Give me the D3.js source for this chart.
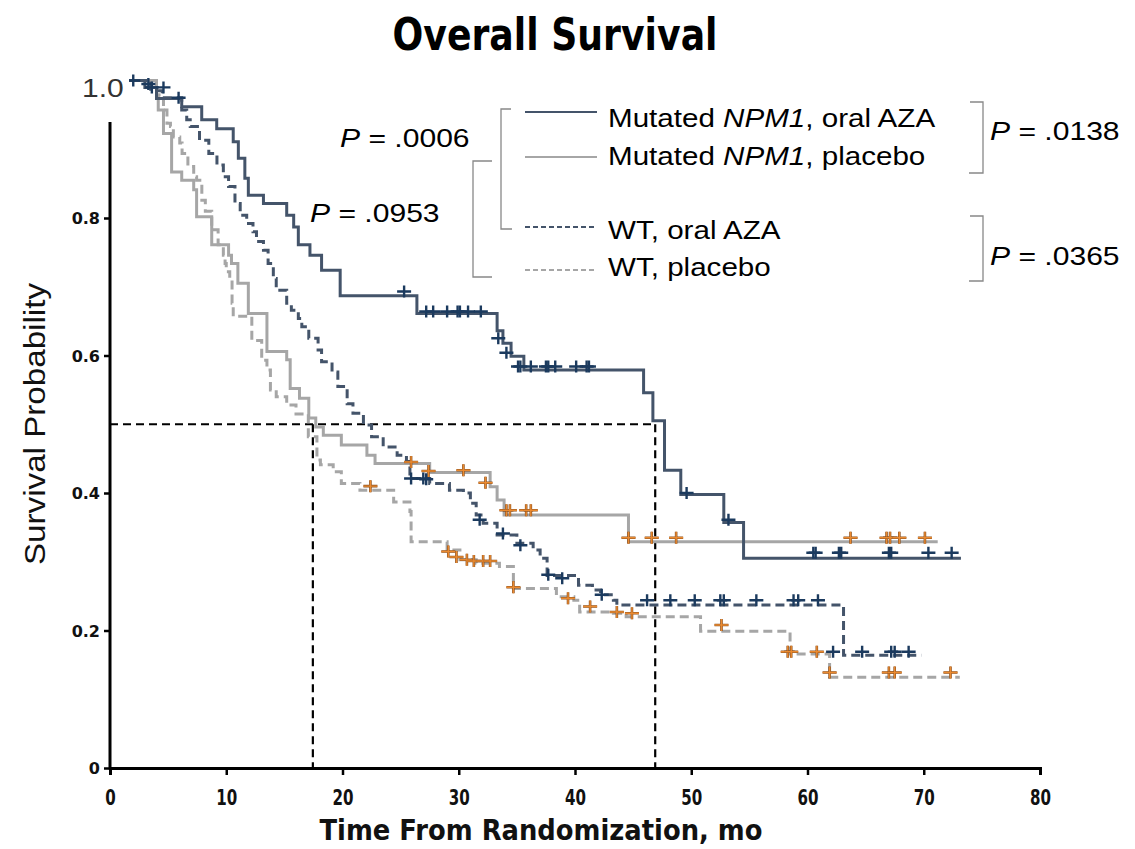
<!DOCTYPE html>
<html><head><meta charset="utf-8">
<script src="https://cdn.jsdelivr.net/npm/d3@7"></script>
<style>body{margin:0;background:#fff;}svg{display:block;}</style>
</head><body>
<svg id="chart" width="1135" height="849"></svg>
<script>
// ---------------- DATA ----------------
const categories = ["Mutated NPM1, oral AZA", "Mutated NPM1, placebo", "WT, oral AZA", "WT, placebo"];
const xTicks = [0, 10, 20, 30, 40, 50, 60, 70, 80];
const yTicks = [0, 0.2, 0.4, 0.6, 0.8];
const yTickLabels = ["0", "0.2", "0.4", "0.6", "0.8"];
const medianTimes = [17.45, 46.9];
const medianLevel = 0.5;
const pValues = [".0006", ".0953", ".0138", ".0365"];

// Mutated NPM1, oral AZA (step curve)
const mutAzaT = [0, 3.0, 4.0, 6.17, 7.89, 9.18, 10.6, 11.04, 11.6, 11.9, 13.2, 15.2, 15.8, 16.2, 17.2, 18.2, 19.8, 26.4, 33.3, 33.8, 34.5, 35.6, 45.9, 46.7, 47.7, 49.1, 52.8, 54.5, 73.2];
const mutAzaS = [1.0, 0.99, 0.974, 0.962, 0.943, 0.930, 0.911, 0.887, 0.858, 0.833, 0.821, 0.804, 0.787, 0.761, 0.746, 0.724, 0.687, 0.661, 0.636, 0.618, 0.599, 0.579, 0.546, 0.505, 0.433, 0.398, 0.357, 0.305, 0.305];
const mutAzaCensT = [2.0, 3.3, 3.6, 4.6, 5.9, 25.3, 27.2, 27.8, 29.0, 29.9, 30.1, 30.8, 31.9, 33.4, 34.1, 35.1, 35.3, 36.2, 37.5, 37.7, 38.3, 40.1, 41.0, 41.2, 49.6, 53.2, 60.5, 60.7, 62.7, 62.9, 67.0, 67.2, 70.4, 72.4];
const mutAzaCensS = [1.0, 0.995, 0.99, 0.99, 0.975, 0.693, 0.664, 0.664, 0.664, 0.664, 0.664, 0.664, 0.664, 0.625, 0.604, 0.584, 0.584, 0.584, 0.584, 0.584, 0.584, 0.584, 0.584, 0.584, 0.40, 0.361, 0.313, 0.313, 0.313, 0.313, 0.313, 0.313, 0.313, 0.313];

// Mutated NPM1, placebo
const mutPboT = [0, 4.0, 4.15, 4.6, 5.3, 6.17, 7.2, 7.45, 8.75, 10.2, 10.45, 11.0, 11.9, 13.5, 15.2, 15.5, 16.3, 17.1, 17.7, 18.35, 19.9, 22.1, 22.8, 27.5, 32.7, 33.3, 33.9, 44.6, 71.2];
const mutPboS = [1.0, 0.979, 0.957, 0.923, 0.867, 0.855, 0.841, 0.802, 0.761, 0.746, 0.734, 0.705, 0.661, 0.606, 0.594, 0.552, 0.538, 0.509, 0.496, 0.484, 0.470, 0.455, 0.443, 0.430, 0.409, 0.390, 0.368, 0.329, 0.329];
const mutPboCensT = [25.9, 27.4, 30.4, 32.3, 34.1, 34.4, 35.8, 36.2, 44.6, 46.6, 48.7, 63.7, 66.8, 67.1, 67.9, 70.1];
const mutPboCensS = [0.445, 0.432, 0.433, 0.415, 0.375, 0.375, 0.375, 0.375, 0.335, 0.335, 0.335, 0.335, 0.335, 0.335, 0.335, 0.335];

// WT, oral AZA
const wtAzaT = [0, 3.5, 4.5, 6.17, 6.6, 6.9, 7.7, 8.5, 9.2, 9.75, 10.2, 10.75, 11.2, 11.76, 12.3, 12.6, 13.2, 13.6, 14.05, 14.3, 15.2, 15.6, 16.2, 16.5, 17.1, 17.9, 18.2, 19.1, 19.6, 20.4, 20.9, 21.8, 22.5, 23.5, 24.7, 25.5, 25.8, 27.5, 29.2, 30.4, 31.0, 31.5, 32.1, 33.3, 35.0, 36.4, 37.0, 37.6, 40.3, 41.5, 42.2, 43.3, 43.6, 63.1, 69.8];
const wtAzaS = [1.0, 0.985, 0.975, 0.957, 0.943, 0.933, 0.913, 0.894, 0.877, 0.860, 0.846, 0.821, 0.804, 0.792, 0.780, 0.766, 0.753, 0.734, 0.712, 0.695, 0.676, 0.666, 0.654, 0.642, 0.625, 0.608, 0.591, 0.576, 0.555, 0.530, 0.516, 0.499, 0.482, 0.467, 0.455, 0.446, 0.421, 0.414, 0.404, 0.400, 0.385, 0.368, 0.356, 0.339, 0.327, 0.317, 0.305, 0.280, 0.266, 0.259, 0.252, 0.244, 0.237, 0.164, 0.164];
const wtAzaCensT = [25.9, 26.95, 27.2, 31.8, 33.8, 35.3, 37.7, 38.9, 42.3, 46.2, 48.2, 50.3, 52.5, 52.8, 55.6, 58.8, 59.2, 60.9, 62.2, 64.7, 67.2, 67.5, 68.7];
const wtAzaCensS = [0.421, 0.421, 0.42, 0.361, 0.341, 0.324, 0.281, 0.276, 0.252, 0.244, 0.244, 0.244, 0.244, 0.244, 0.244, 0.244, 0.244, 0.244, 0.169, 0.169, 0.169, 0.169, 0.169];

// WT, placebo
const wtPboT = [0, 4.0, 4.6, 4.9, 5.2, 5.45, 6.0, 6.2, 6.7, 7.2, 7.45, 7.9, 8.2, 8.75, 9.3, 9.75, 9.9, 10.0, 10.3, 10.5, 10.6, 12.2, 13.05, 13.5, 13.8, 14.3, 15.2, 16.0, 17.06, 17.8, 18.1, 19.2, 19.9, 21.5, 24.4, 25.8, 25.9, 29.0, 30.1, 31.5, 33.5, 34.7, 38.4, 39.9, 40.4, 43.3, 44.4, 50.8, 58.5, 61.9, 73.1];
const wtPboS = [1.0, 0.979, 0.957, 0.938, 0.933, 0.918, 0.909, 0.894, 0.875, 0.860, 0.855, 0.826, 0.810, 0.783, 0.761, 0.746, 0.734, 0.722, 0.707, 0.676, 0.657, 0.622, 0.593, 0.579, 0.550, 0.540, 0.528, 0.515, 0.482, 0.448, 0.441, 0.431, 0.414, 0.404, 0.387, 0.373, 0.329, 0.317, 0.303, 0.298, 0.293, 0.261, 0.249, 0.244, 0.227, 0.225, 0.220, 0.199, 0.166, 0.132, 0.132];
const wtPboCensT = [22.4, 29.1, 29.8, 30.7, 31.3, 32.1, 32.7, 34.7, 39.4, 41.3, 43.6, 44.9, 52.6, 58.3, 58.6, 60.8, 61.9, 67.0, 67.5, 72.3];
const wtPboCensS = [0.41, 0.315, 0.307, 0.303, 0.301, 0.301, 0.301, 0.263, 0.247, 0.235, 0.227, 0.225, 0.208, 0.169, 0.169, 0.169, 0.139, 0.139, 0.139, 0.139];

// ---------------- CHART ----------------
const svg = d3.select("#chart");
const x = d3.scaleLinear().domain([0, 80]).range([110, 1040]);
const y = d3.scaleLinear().domain([0, 1]).range([768, 80.5]);

const darkLine = "#44546a", grayLine = "#a6a6a6";
const darkCross = "#1b3a5e", orangeCross = "#ea8a30";

const series = [
  {T: mutAzaT, S: mutAzaS, cT: mutAzaCensT, cS: mutAzaCensS, color: darkLine, dash: null, cross: "dark"},
  {T: mutPboT, S: mutPboS, cT: mutPboCensT, cS: mutPboCensS, color: grayLine, dash: null, cross: "orange"},
  {T: wtAzaT, S: wtAzaS, cT: wtAzaCensT, cS: wtAzaCensS, color: darkLine, dash: "9,5", cross: "dark"},
  {T: wtPboT, S: wtPboS, cT: wtPboCensT, cS: wtPboCensS, color: grayLine, dash: "9,5", cross: "orange"}
];

// median reference lines
const med = svg.append("g").attr("stroke", "#000").attr("stroke-width", 2.2).attr("stroke-dasharray", "8,5").attr("fill", "none");
med.append("line").attr("x1", x(0)).attr("x2", x(medianTimes[1])).attr("y1", y(medianLevel)).attr("y2", y(medianLevel));
medianTimes.forEach(t => med.append("line").attr("x1", x(t)).attr("x2", x(t)).attr("y1", y(medianLevel)).attr("y2", y(0)));

const line = d3.line().x(d => x(d[0])).y(d => y(d[1])).curve(d3.curveStepAfter);
const drawOrder = [3, 1, 2, 0];
drawOrder.forEach(i => {
  const s = series[i];
  const pts = s.T.map((t, k) => [t, s.S[k]]);
  svg.append("path").attr("d", line(pts)).attr("fill", "none")
    .attr("stroke", s.color).attr("stroke-width", 3)
    .attr("stroke-dasharray", s.dash);
});
const crossPath = "M-7,0H7M0,-6V6";
drawOrder.forEach(i => {
  const s = series[i];
  const g = svg.append("g");
  s.cT.forEach((t, k) => {
    const tr = `translate(${x(t)},${y(s.cS[k])})`;
    if (s.cross === "orange") {
      g.append("path").attr("d", crossPath).attr("transform", tr).attr("stroke", "#8a5020").attr("stroke-width", 2.6).attr("fill", "none");
      g.append("path").attr("d", crossPath).attr("transform", tr).attr("stroke", orangeCross).attr("stroke-width", 1.4).attr("fill", "none");
    } else {
      g.append("path").attr("d", crossPath).attr("transform", tr).attr("stroke", darkCross).attr("stroke-width", 2.4).attr("fill", "none");
    }
  });
});

// axes
const yAxis = svg.append("g").attr("transform", `translate(${x(0)},0)`)
  .call(d3.axisLeft(y).tickValues(yTicks).tickSize(6).tickFormat((d, i) => yTickLabels[i]));
yAxis.select(".domain").remove();
yAxis.selectAll(".tick line").attr("stroke", "#000").attr("stroke-width", 2.5);
yAxis.selectAll(".tick text").attr("font-family", "DejaVu Sans").attr("font-weight", "bold").attr("font-size", 16)
  .attr("fill", "#111").attr("x", -10).attr("dy", "0.36em");
svg.append("line").attr("x1", x(0)).attr("x2", x(0)).attr("y1", 122).attr("y2", y(0) + 1.5).attr("stroke", "#000").attr("stroke-width", 3);

const xAxis = svg.append("g").attr("transform", `translate(0,${y(0)})`)
  .call(d3.axisBottom(x).tickValues(xTicks).tickSize(7).tickFormat(d3.format("d")));
xAxis.select(".domain").attr("stroke", "#000").attr("stroke-width", 3);
xAxis.selectAll(".tick line").attr("stroke", "#000").attr("stroke-width", 2.5);
xAxis.selectAll(".tick text").attr("font-family", "DejaVu Sans").attr("font-weight", "bold").attr("font-size", 21)
  .attr("fill", "#111").attr("y", 22)
  .attr("textLength", d => String(d).length * 10.5).attr("lengthAdjust", "spacingAndGlyphs");

// "1.0" label with white background
svg.append("rect").attr("x", 78).attr("y", 72).attr("width", 51).attr("height", 28).attr("fill", "#fff");
svg.append("text").attr("transform", `translate(82,${y(1) + 16}) scale(1.2,1)`).attr("font-family", "Liberation Sans, Arial")
  .attr("font-size", 25).attr("fill", "#333").text("1.0");

// titles
svg.append("text").attr("x", 555).attr("y", 50).attr("text-anchor", "middle").attr("font-family", "DejaVu Sans")
  .attr("font-weight", "bold").attr("font-size", 45).attr("fill", "#000")
  .attr("textLength", 325).attr("lengthAdjust", "spacingAndGlyphs").text("Overall Survival");
svg.append("text").attr("x", 541).attr("y", 840).attr("text-anchor", "middle").attr("font-family", "DejaVu Sans")
  .attr("font-weight", "bold").attr("font-size", 28).attr("fill", "#111")
  .attr("textLength", 443).attr("lengthAdjust", "spacingAndGlyphs").text("Time From Randomization, mo");
svg.append("text").attr("transform", "translate(45,424) rotate(-90)").attr("text-anchor", "middle")
  .attr("font-family", "Liberation Sans, Arial").attr("font-size", 29).attr("fill", "#111")
  .attr("textLength", 282).attr("lengthAdjust", "spacingAndGlyphs").text("Survival Probability");

// P values
function pText(px, py, val) {
  const t = svg.append("text").attr("transform", `translate(${px},${py}) scale(1.18,1)`)
    .attr("font-family", "Liberation Sans, Arial").attr("font-size", 25.5).attr("fill", "#000");
  t.append("tspan").attr("font-style", "italic").text("P");
  t.append("tspan").text(" = " + val);
}
pText(340, 147, pValues[0]);
pText(310, 222, pValues[1]);
pText(990, 140, pValues[2]);
pText(990, 265, pValues[3]);

// brackets
const br = svg.append("g").attr("stroke", "#888").attr("stroke-width", 1.3).attr("fill", "none");
br.append("path").attr("d", "M511,109H501V229H512");
br.append("path").attr("d", "M492,161H473V277H492");
br.append("path").attr("d", "M970,102H983V173H969");
br.append("path").attr("d", "M970,216H983V281H969");

// legend
const legY = [112, 157, 227, 270];
const legTextY = [126.5, 165, 239, 276];
categories.forEach((c, i) => {
  const s = series[i];
  svg.append("line").attr("x1", 525).attr("x2", 597).attr("y1", legY[i]).attr("y2", legY[i])
    .attr("stroke", s.color).attr("stroke-width", 2).attr("stroke-dasharray", s.dash ? "5,3" : null);
  const t = svg.append("text").attr("transform", `translate(608,${legTextY[i]}) scale(1.16,1)`)
    .attr("font-family", "Liberation Sans, Arial").attr("font-size", 25.5).attr("fill", "#000");
  const m = c.match(/^(Mutated )(NPM1)(.*)$/);
  if (m) {
    t.append("tspan").text(m[1]);
    t.append("tspan").attr("font-style", "italic").text(m[2]);
    t.append("tspan").text(m[3]);
  } else {
    t.text(c);
  }
});
</script>
</body></html>
